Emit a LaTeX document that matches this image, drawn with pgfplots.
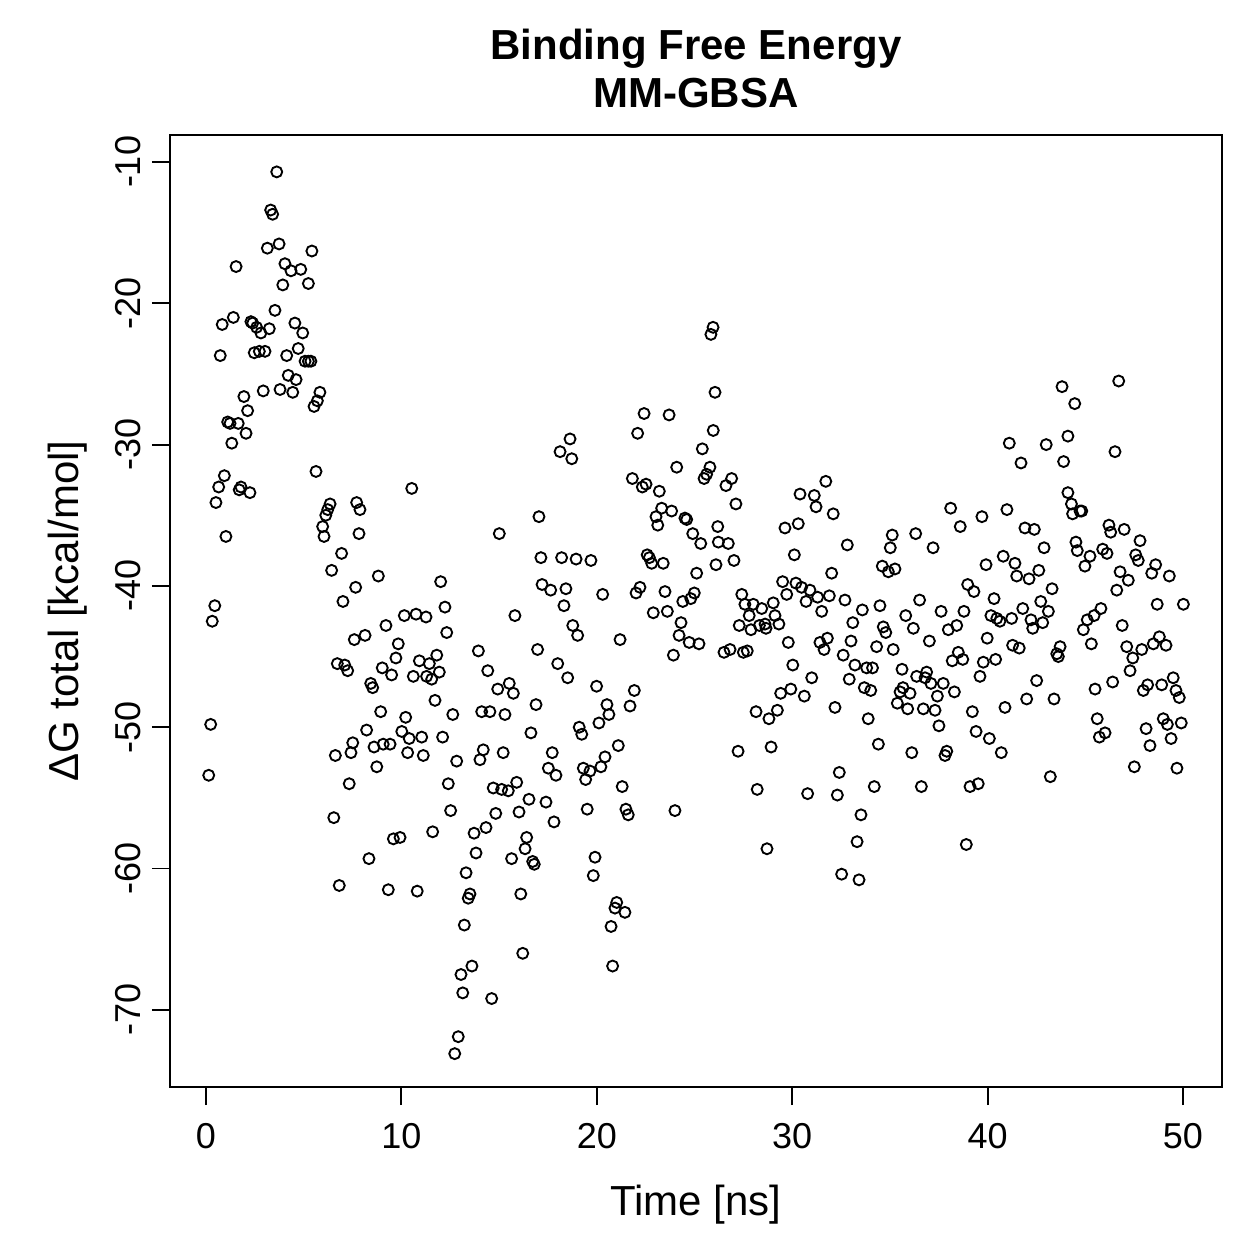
\documentclass[border=0pt]{standalone}
\usepackage{fontspec}
\setmainfont{Liberation Sans}
\usepackage{pgfplots}
\pgfplotsset{compat=1.18}
\begin{document}
\begin{tikzpicture}
\path[use as bounding box] (-68bp,-68.8bp) rectangle (435.6bp,434.8bp);
\begin{axis}[
 at={(0,0)}, anchor=south west,
 scale only axis, width=420.8bp, height=380.8bp,
 xmin=-1.842, xmax=51.996, ymin=-75.46, ymax=-8.09,
 axis line style={line width=0.75bp},
 xtick={0,10,20,30,40,50}, xticklabels={0,10,20,30,40,50},
 ytick={-70,-60,-50,-40,-30,-20,-10}, yticklabels={-70,-60,-50,-40,-30,-20,-10},
 tick align=outside, tick pos=left,
 major tick length=7.2bp,
 every tick/.style={black, line width=0.75bp},
 tick label style={font=\fontsize{14.4bp}{17bp}\selectfont, inner sep=0pt},
 xticklabel style={anchor=base},
 yticklabel style={rotate=90, anchor=base},
 xticklabel shift=17.2bp,
 yticklabel shift=4.8bp,
]
\addplot[only marks, mark=o, mark size=2.2bp, mark options={line width=0.75bp, black}] table[row sep=\\] {
x y\\
0.14 -53.4\\ 0.24 -49.8\\ 0.32 -42.5\\ 0.45 -41.4\\ 0.51 -34.1\\ 0.65 -33.0\\ 0.73 -23.7\\ 0.83 -21.5\\ 0.94 -32.2\\ 1.02 -36.5\\
1.11 -28.4\\ 1.23 -28.5\\ 1.32 -29.9\\ 1.40 -21.0\\ 1.54 -17.4\\ 1.65 -28.5\\ 1.70 -33.2\\ 1.79 -33.0\\ 1.94 -26.6\\ 2.05 -29.2\\
2.13 -27.6\\ 2.25 -33.4\\ 2.30 -21.3\\ 2.39 -21.4\\ 2.47 -23.5\\ 2.59 -21.7\\ 2.73 -23.4\\ 2.81 -22.1\\ 2.93 -26.2\\ 3.02 -23.4\\
3.14 -16.1\\ 3.24 -21.8\\ 3.31 -13.4\\ 3.41 -13.7\\ 3.53 -20.5\\ 3.62 -10.7\\ 3.74 -15.8\\ 3.79 -26.1\\ 3.93 -18.7\\ 4.04 -17.2\\
4.13 -23.7\\ 4.21 -25.1\\ 4.35 -17.7\\ 4.44 -26.3\\ 4.55 -21.4\\ 4.61 -25.4\\ 4.72 -23.2\\ 4.85 -17.6\\ 4.95 -22.1\\ 5.07 -24.1\\
5.24 -24.1\\ 5.24 -18.6\\ 5.37 -24.1\\ 5.42 -16.3\\ 5.53 -27.3\\ 5.63 -31.9\\ 5.70 -26.9\\ 5.83 -26.3\\ 5.97 -35.8\\ 6.04 -36.5\\
6.13 -35.0\\ 6.23 -34.6\\ 6.35 -34.2\\ 6.43 -38.9\\ 6.54 -56.4\\ 6.62 -52.0\\ 6.72 -45.5\\ 6.82 -61.2\\ 6.94 -37.7\\ 7.01 -41.1\\
7.10 -45.6\\ 7.25 -46.0\\ 7.33 -54.0\\ 7.42 -51.8\\ 7.51 -51.1\\ 7.59 -43.8\\ 7.66 -40.1\\ 7.71 -34.1\\ 7.83 -36.3\\ 7.88 -34.6\\
8.14 -43.5\\ 8.22 -50.2\\ 8.34 -59.3\\ 8.43 -46.9\\ 8.53 -47.2\\ 8.60 -51.4\\ 8.74 -52.8\\ 8.82 -39.3\\ 8.94 -48.9\\ 9.02 -45.8\\
9.07 -51.2\\ 9.21 -42.8\\ 9.33 -61.5\\ 9.42 -51.2\\ 9.50 -46.3\\ 9.59 -57.9\\ 9.72 -45.1\\ 9.84 -44.1\\ 9.93 -57.8\\ 10.02 -50.3\\
10.15 -42.1\\ 10.22 -49.3\\ 10.32 -51.8\\ 10.40 -50.8\\ 10.53 -33.1\\ 10.61 -46.4\\ 10.75 -42.0\\ 10.81 -61.6\\ 10.92 -45.3\\ 11.04 -50.7\\
11.12 -52.0\\ 11.26 -42.2\\ 11.29 -46.4\\ 11.43 -45.5\\ 11.55 -46.6\\ 11.60 -57.4\\ 11.72 -48.1\\ 11.81 -44.9\\ 11.94 -46.1\\ 12.01 -39.7\\
12.11 -50.7\\ 12.23 -41.5\\ 12.32 -43.3\\ 12.40 -54.0\\ 12.52 -55.9\\ 12.63 -49.1\\ 12.73 -73.1\\ 12.83 -52.4\\ 12.91 -71.9\\ 13.05 -67.5\\
13.14 -68.8\\ 13.22 -64.0\\ 13.31 -60.3\\ 13.42 -62.1\\ 13.51 -61.8\\ 13.61 -66.9\\ 13.72 -57.5\\ 13.82 -58.9\\ 13.94 -44.6\\ 14.02 -52.3\\
14.11 -48.9\\ 14.19 -51.6\\ 14.33 -57.1\\ 14.42 -46.0\\ 14.53 -48.9\\ 14.62 -69.2\\ 14.70 -54.3\\ 14.83 -56.1\\ 14.93 -47.3\\ 15.01 -36.3\\
15.13 -54.4\\ 15.21 -51.8\\ 15.30 -49.1\\ 15.47 -54.5\\ 15.52 -46.9\\ 15.64 -59.3\\ 15.73 -47.6\\ 15.81 -42.1\\ 15.90 -53.9\\ 16.02 -56.0\\
16.11 -61.8\\ 16.21 -66.0\\ 16.33 -58.6\\ 16.41 -57.8\\ 16.53 -55.1\\ 16.63 -50.4\\ 16.72 -59.5\\ 16.80 -59.7\\ 16.89 -48.4\\ 16.97 -44.5\\
17.04 -35.1\\ 17.14 -38.0\\ 17.20 -39.9\\ 17.40 -55.3\\ 17.52 -52.9\\ 17.64 -40.3\\ 17.72 -51.8\\ 17.81 -56.7\\ 17.91 -53.4\\ 18.00 -45.5\\
18.12 -30.5\\ 18.20 -38.0\\ 18.32 -41.4\\ 18.42 -40.2\\ 18.51 -46.5\\ 18.63 -29.6\\ 18.72 -31.0\\ 18.77 -42.8\\ 18.94 -38.1\\ 19.02 -43.5\\
19.10 -50.0\\ 19.23 -50.5\\ 19.31 -52.9\\ 19.43 -53.7\\ 19.51 -55.8\\ 19.65 -53.1\\ 19.70 -38.2\\ 19.82 -60.5\\ 19.91 -59.2\\ 19.99 -47.1\\
20.11 -49.7\\ 20.21 -52.8\\ 20.30 -40.6\\ 20.42 -52.1\\ 20.52 -48.4\\ 20.62 -49.1\\ 20.73 -64.1\\ 20.81 -66.9\\ 20.93 -62.8\\ 21.02 -62.4\\
21.10 -51.3\\ 21.19 -43.8\\ 21.30 -54.2\\ 21.44 -63.1\\ 21.49 -55.8\\ 21.61 -56.2\\ 21.70 -48.5\\ 21.82 -32.4\\ 21.92 -47.4\\ 22.01 -40.5\\
22.09 -29.2\\ 22.21 -40.1\\ 22.33 -33.0\\ 22.42 -27.8\\ 22.52 -32.8\\ 22.58 -37.8\\ 22.69 -38.0\\ 22.81 -38.4\\ 22.89 -41.9\\ 23.03 -35.1\\
23.12 -35.7\\ 23.20 -33.3\\ 23.32 -34.5\\ 23.40 -38.4\\ 23.49 -40.4\\ 23.61 -41.8\\ 23.70 -27.9\\ 23.83 -34.7\\ 23.92 -44.9\\ 24.00 -55.9\\
24.09 -31.6\\ 24.21 -43.5\\ 24.31 -42.6\\ 24.40 -41.1\\ 24.51 -35.2\\ 24.60 -35.3\\ 24.73 -44.0\\ 24.81 -40.9\\ 24.91 -36.3\\ 24.99 -40.5\\
25.11 -39.1\\ 25.23 -44.1\\ 25.32 -37.0\\ 25.40 -30.3\\ 25.49 -32.4\\ 25.62 -32.1\\ 25.79 -31.6\\ 25.84 -22.2\\ 25.95 -21.7\\ 25.96 -29.0\\
26.05 -26.3\\ 26.10 -38.5\\ 26.19 -35.8\\ 26.22 -36.9\\ 26.61 -32.9\\ 26.90 -32.4\\ 27.12 -34.2\\ 26.73 -37.0\\ 27.02 -38.2\\ 26.51 -44.7\\
26.82 -44.5\\ 27.29 -42.8\\ 27.42 -40.6\\ 27.50 -44.7\\ 27.58 -41.3\\ 27.70 -44.6\\ 27.23 -51.7\\ 27.80 -42.1\\ 27.89 -43.1\\ 28.01 -41.3\\
28.15 -48.9\\ 28.21 -54.4\\ 28.32 -42.8\\ 28.44 -41.6\\ 28.61 -42.7\\ 28.66 -43.0\\ 28.71 -58.6\\ 28.81 -49.4\\ 28.92 -51.4\\ 29.03 -41.2\\
29.12 -42.1\\ 29.24 -48.8\\ 29.32 -42.7\\ 29.41 -47.6\\ 29.51 -39.7\\ 29.63 -35.9\\ 29.72 -40.6\\ 29.80 -44.0\\ 29.93 -47.3\\ 30.03 -45.6\\
30.11 -37.8\\ 30.19 -39.8\\ 30.31 -35.6\\ 30.40 -33.5\\ 30.48 -40.1\\ 30.62 -47.8\\ 30.71 -41.1\\ 30.79 -54.7\\ 30.91 -40.3\\ 31.00 -46.5\\
31.13 -33.6\\ 31.22 -34.4\\ 31.30 -40.8\\ 31.42 -44.0\\ 31.51 -41.8\\ 31.63 -44.5\\ 31.72 -32.6\\ 31.80 -43.7\\ 31.90 -40.7\\ 32.02 -39.1\\
32.10 -34.9\\ 32.19 -48.6\\ 32.31 -54.8\\ 32.41 -53.2\\ 32.53 -60.4\\ 32.61 -44.9\\ 32.70 -41.0\\ 32.82 -37.1\\ 32.92 -46.6\\ 33.01 -43.9\\
33.10 -42.6\\ 33.21 -45.6\\ 33.32 -58.1\\ 33.42 -60.8\\ 33.52 -56.2\\ 33.59 -41.7\\ 33.69 -47.2\\ 33.81 -45.8\\ 33.89 -49.4\\ 34.02 -47.4\\
34.11 -45.8\\ 34.20 -54.2\\ 34.32 -44.3\\ 34.41 -51.2\\ 34.49 -41.4\\ 34.61 -38.6\\ 34.66 -42.9\\ 34.79 -43.3\\ 34.92 -39.0\\ 35.02 -37.3\\
35.12 -36.4\\ 35.26 -38.8\\ 35.17 -44.5\\ 35.38 -48.3\\ 35.62 -45.9\\ 35.52 -47.5\\ 35.67 -47.2\\ 36.03 -47.6\\ 35.81 -42.1\\ 35.91 -48.7\\
36.12 -51.8\\ 36.20 -43.0\\ 36.32 -36.3\\ 36.37 -46.4\\ 36.52 -41.0\\ 36.61 -54.2\\ 36.71 -48.7\\ 36.80 -46.5\\ 36.88 -46.1\\ 37.02 -43.9\\
37.10 -46.9\\ 37.21 -37.3\\ 37.31 -48.8\\ 37.43 -47.8\\ 37.51 -49.9\\ 37.62 -41.8\\ 37.73 -46.9\\ 37.82 -52.0\\ 37.91 -51.7\\ 37.99 -43.1\\
38.11 -34.5\\ 38.19 -45.3\\ 38.30 -47.5\\ 38.42 -42.8\\ 38.50 -44.7\\ 38.60 -35.8\\ 38.73 -45.2\\ 38.79 -41.8\\ 38.91 -58.3\\ 38.98 -39.9\\
39.10 -54.2\\ 39.22 -48.9\\ 39.30 -40.4\\ 39.41 -50.3\\ 39.52 -54.0\\ 39.61 -46.4\\ 39.71 -35.1\\ 39.78 -45.4\\ 39.92 -38.5\\ 39.98 -43.7\\
40.09 -50.8\\ 40.17 -42.1\\ 40.33 -40.9\\ 40.41 -45.2\\ 40.47 -42.3\\ 40.63 -42.5\\ 40.70 -51.8\\ 40.80 -37.9\\ 40.89 -48.6\\ 40.99 -34.6\\
41.11 -29.9\\ 41.23 -42.3\\ 41.28 -44.2\\ 41.40 -38.4\\ 41.49 -39.3\\ 41.62 -44.4\\ 41.71 -31.3\\ 41.80 -41.6\\ 41.91 -35.9\\ 42.00 -48.0\\
42.12 -39.5\\ 42.22 -42.4\\ 42.31 -43.0\\ 42.39 -36.0\\ 42.51 -46.7\\ 42.62 -38.9\\ 42.72 -41.1\\ 42.82 -42.6\\ 42.89 -37.3\\ 43.00 -30.0\\
43.11 -41.8\\ 43.21 -53.5\\ 43.30 -40.2\\ 43.40 -48.0\\ 43.54 -44.8\\ 43.62 -45.0\\ 43.71 -44.3\\ 43.81 -25.9\\ 43.89 -31.2\\ 44.11 -29.4\\
44.11 -33.4\\ 44.29 -34.2\\ 44.35 -34.9\\ 44.46 -27.1\\ 44.52 -36.9\\ 44.59 -37.5\\ 44.73 -34.7\\ 44.82 -34.7\\ 44.90 -43.1\\ 44.98 -38.6\\
45.10 -42.4\\ 45.24 -37.9\\ 45.31 -44.1\\ 45.45 -42.1\\ 45.50 -47.3\\ 45.61 -49.4\\ 45.72 -50.7\\ 45.80 -41.6\\ 45.89 -37.4\\ 46.01 -50.4\\
46.11 -37.7\\ 46.21 -35.7\\ 46.30 -36.2\\ 46.40 -46.8\\ 46.52 -30.5\\ 46.61 -40.3\\ 46.71 -25.5\\ 46.78 -39.0\\ 46.89 -42.8\\ 46.99 -36.0\\
47.12 -44.3\\ 47.20 -39.6\\ 47.29 -46.0\\ 47.43 -45.1\\ 47.51 -52.8\\ 47.58 -37.8\\ 47.71 -38.2\\ 47.80 -36.8\\ 47.89 -44.5\\ 47.97 -47.4\\
48.11 -50.1\\ 48.19 -47.0\\ 48.31 -51.3\\ 48.40 -39.1\\ 48.48 -44.1\\ 48.60 -38.5\\ 48.68 -41.3\\ 48.79 -43.6\\ 48.91 -47.0\\ 48.99 -49.4\\
49.13 -44.2\\ 49.20 -49.8\\ 49.30 -39.3\\ 49.39 -50.8\\ 49.50 -46.5\\ 49.64 -47.4\\ 49.69 -52.9\\ 49.81 -47.9\\ 49.91 -49.7\\ 50.02 -41.3\\
};
\end{axis}
\node[anchor=base, font=\fontsize{16.8bp}{20bp}\selectfont\bfseries] at ([yshift=30bp]current axis.north) {Binding Free Energy};
\node[anchor=base, font=\fontsize{16.8bp}{20bp}\selectfont\bfseries] at ([yshift=10.8bp]current axis.north) {MM-GBSA};
\node[anchor=base, font=\fontsize{16.8bp}{20bp}\selectfont] at ([yshift=-51.2bp]current axis.south) {Time [ns]};
\node[anchor=base, rotate=90, font=\fontsize{16.8bp}{20bp}\selectfont] at ([xshift=-36.8bp]current axis.west) {ΔG total [kcal/mol]};
\end{tikzpicture}
\end{document}
